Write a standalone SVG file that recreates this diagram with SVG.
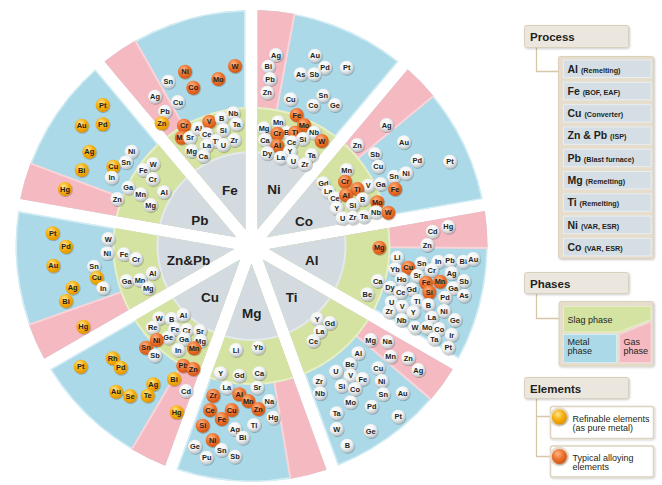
<svg xmlns="http://www.w3.org/2000/svg" width="662" height="485" viewBox="0 0 662 485">
<style>
text{font-family:"Liberation Sans",Arial,sans-serif;fill:#231f20}
.el text{font-size:7.4px;font-weight:bold;text-anchor:middle}
.w{fill:url(#gw);filter:url(#sh)}
.o{fill:url(#go);filter:url(#sh)}
.y{fill:url(#gy);filter:url(#sh)}
.lb{font-size:13.5px;font-weight:bold;text-anchor:middle}
.bl{fill:#acd9e7;stroke:#d3edf5;stroke-width:3}
.pk{fill:#f4b9c1;stroke:#f9d5da;stroke-width:2}
.gn{fill:#d5e3a2;stroke:#e6efc6;stroke-width:2}
.gc{fill:#d3dbe0;stroke:#e3e9ec;stroke-width:2}
.hd{fill:#ece7de;stroke:#d9cfbd;stroke-width:1}
.ht{font-size:11.5px;font-weight:bold}
.cn{fill:none;stroke:#d6c7a8;stroke-width:1.3}
.ob{fill:#e6ddcc;stroke:#dbd1bd;stroke-width:1}
.it{fill:#d4dee4;stroke:#e9eef1;stroke-width:1}
.pt{font-size:10.5px;font-weight:bold}
.ps{font-size:7.2px}
.lt{font-size:9px}
</style>
<defs>
<radialGradient id="gw" cx="0.4" cy="0.32" r="0.72">
<stop offset="0" stop-color="#ffffff"/><stop offset="0.55" stop-color="#f0f2f3"/><stop offset="1" stop-color="#b5bcc1"/>
</radialGradient>
<radialGradient id="go" cx="0.4" cy="0.32" r="0.72">
<stop offset="0" stop-color="#ffb585"/><stop offset="0.5" stop-color="#ee7430"/><stop offset="1" stop-color="#cf5210"/>
</radialGradient>
<radialGradient id="gy" cx="0.4" cy="0.32" r="0.72">
<stop offset="0" stop-color="#ffe590"/><stop offset="0.5" stop-color="#f7b00c"/><stop offset="1" stop-color="#e09200"/>
</radialGradient>
<clipPath id="sec"><path d="M0,-17.54 L75.05,-223.75 A236 236 0 0 0 -75.05,-223.75 Z"/></clipPath>
<filter id="sh" x="-30%" y="-30%" width="170%" height="170%"><feDropShadow dx="0.6" dy="0.8" stdDeviation="0.5" flood-color="#000" flood-opacity="0.3"/></filter>
<filter id="bs" x="-10%" y="-10%" width="130%" height="130%"><feDropShadow dx="1" dy="1" stdDeviation="0.8" flood-color="#000" flood-opacity="0.2"/></filter>
<g id="wedge">
<g clip-path="url(#sec)">
<path class="bl" d="M0,-17.54 L75.05,-223.75 A236 236 0 0 0 -75.05,-223.75 Z"/>
<polygon class="pk" points="0,0 -150,-259.8 -49.52,-295.88"/>
<circle class="gn" r="138"/>
<circle class="gc" r="94"/>
</g>
</g>
</defs>

<g id="sectors">
<use id="sector-ni" href="#wedge" transform="translate(251.5,246) rotate(20)"/>
<use id="sector-co" href="#wedge" transform="translate(251.5,246) rotate(60)"/>
<use id="sector-al" href="#wedge" transform="translate(251.5,246) rotate(100)"/>
<use id="sector-ti" href="#wedge" transform="translate(251.5,246) rotate(140)"/>
<use id="sector-mg" href="#wedge" transform="translate(251.5,246) rotate(180)"/>
<use id="sector-cu" href="#wedge" transform="translate(251.5,246) rotate(220)"/>
<use id="sector-znpb" href="#wedge" transform="translate(251.5,246) rotate(260)"/>
<use id="sector-pb" href="#wedge" transform="translate(251.5,246) rotate(300)"/>
<use id="sector-fe" href="#wedge" transform="translate(251.5,246) rotate(340)"/>
</g>

<g id="labels">
<text class="lb" x="230" y="194.5">Fe</text>
<text class="lb" x="274" y="193.5">Ni</text>
<text class="lb" x="304" y="226">Co</text>
<text class="lb" x="311.7" y="264.5">Al</text>
<text class="lb" x="291.7" y="302">Ti</text>
<text class="lb" x="251.7" y="318">Mg</text>
<text class="lb" x="210" y="302">Cu</text>
<text class="lb" x="188.5" y="264.5">Zn&amp;Pb</text>
<text class="lb" x="200" y="224.5">Pb</text>
</g>

<g id="fe-elements" class="el">
<circle class="o" cx="185" cy="71.7" r="7"/><text x="185" y="74.3">Ni</text>
<circle class="o" cx="193.3" cy="87.7" r="7"/><text x="193.3" y="90.3">Co</text>
<circle class="o" cx="218.3" cy="79" r="7"/><text x="218.3" y="81.6">Mo</text>
<circle class="o" cx="235" cy="66" r="7"/><text x="235" y="68.6">W</text>
<circle class="w" cx="168.3" cy="81.7" r="7"/><text x="168.3" y="84.3">Sn</text>
<circle class="w" cx="155" cy="96.7" r="7"/><text x="155" y="99.3">Ag</text>
<circle class="w" cx="178" cy="102" r="7"/><text x="178" y="104.6">Cu</text>
<circle class="w" cx="165" cy="111.7" r="7"/><text x="165" y="114.3">Pb</text>
<circle class="y" cx="161.7" cy="123.3" r="7"/><text x="161.7" y="125.9">Zn</text>
<circle class="o" cx="184" cy="125.7" r="7"/><text x="184" y="128.3">Cr</text>
<circle class="o" cx="181.7" cy="137.7" r="7"/><text x="181.7" y="140.3">Mn</text>
<circle class="w" cx="190" cy="137.7" r="7"/><text x="190" y="140.3">Sr</text>
<circle class="w" cx="198.3" cy="128.3" r="7"/><text x="198.3" y="130.9">Al</text>
<circle class="o" cx="209.3" cy="121.7" r="7"/><text x="209.3" y="124.3">V</text>
<circle class="w" cx="221.7" cy="118.3" r="7"/><text x="221.7" y="120.9">B</text>
<circle class="w" cx="233.3" cy="113.3" r="7"/><text x="233.3" y="115.9">Nb</text>
<circle class="w" cx="236.7" cy="124.3" r="7"/><text x="236.7" y="126.9">Ta</text>
<circle class="w" cx="223.3" cy="130" r="7"/><text x="223.3" y="132.6">Si</text>
<circle class="w" cx="206.7" cy="134.3" r="7"/><text x="206.7" y="136.9">Ce</text>
<circle class="w" cx="216" cy="141" r="7"/><text x="216" y="143.6">Ti</text>
<circle class="w" cx="234.3" cy="140" r="7"/><text x="234.3" y="142.6">Zr</text>
<circle class="w" cx="223.3" cy="145" r="7"/><text x="223.3" y="147.6">U</text>
<circle class="w" cx="206.7" cy="145.7" r="7"/><text x="206.7" y="148.3">La</text>
<circle class="w" cx="191.7" cy="151" r="7"/><text x="191.7" y="153.6">Mg</text>
<circle class="w" cx="203.3" cy="156" r="7"/><text x="203.3" y="158.6">Ca</text>
</g>

<g id="ni-elements" class="el">
<circle class="w" cx="276" cy="55" r="7"/><text x="276" y="57.6">Ag</text>
<circle class="w" cx="268.3" cy="66.7" r="7"/><text x="268.3" y="69.3">Bi</text>
<circle class="w" cx="270" cy="79" r="7"/><text x="270" y="81.6">Pb</text>
<circle class="w" cx="267.3" cy="92.7" r="7"/><text x="267.3" y="95.3">Zn</text>
<circle class="w" cx="315" cy="55.7" r="7"/><text x="315" y="58.3">Au</text>
<circle class="w" cx="325" cy="67.7" r="7"/><text x="325" y="70.3">Pd</text>
<circle class="w" cx="300.7" cy="74.3" r="7"/><text x="300.7" y="76.9">As</text>
<circle class="w" cx="314.3" cy="74.3" r="7"/><text x="314.3" y="76.9">Sb</text>
<circle class="w" cx="346.7" cy="67.7" r="7"/><text x="346.7" y="70.3">Pt</text>
<circle class="w" cx="290.7" cy="99.3" r="7"/><text x="290.7" y="101.9">Cu</text>
<circle class="w" cx="323.3" cy="95.7" r="7"/><text x="323.3" y="98.3">Sn</text>
<circle class="w" cx="313.3" cy="105.7" r="7"/><text x="313.3" y="108.3">Co</text>
<circle class="w" cx="335" cy="105" r="7"/><text x="335" y="107.6">Ge</text>
<circle class="o" cx="296.7" cy="115" r="7"/><text x="296.7" y="117.6">Fe</text>
<circle class="w" cx="278.3" cy="122.3" r="7"/><text x="278.3" y="124.9">Mn</text>
<circle class="o" cx="304" cy="125" r="7"/><text x="304" y="127.6">Mo</text>
<circle class="w" cx="264" cy="128.3" r="7"/><text x="264" y="130.9">Mg</text>
<circle class="w" cx="286.7" cy="132.7" r="7"/><text x="286.7" y="135.3">B</text>
<circle class="o" cx="277.3" cy="133.7" r="7"/><text x="277.3" y="136.3">Cr</text>
<circle class="o" cx="295" cy="132.7" r="7"/><text x="295" y="135.3">Ti</text>
<circle class="w" cx="314" cy="132.7" r="7"/><text x="314" y="135.3">Nb</text>
<circle class="w" cx="302.7" cy="139" r="7"/><text x="302.7" y="141.6">Si</text>
<circle class="w" cx="265" cy="140" r="7"/><text x="265" y="142.6">Ca</text>
<circle class="w" cx="291.7" cy="142.3" r="7"/><text x="291.7" y="144.9">Ce</text>
<circle class="o" cx="321.7" cy="141" r="7"/><text x="321.7" y="143.6">W</text>
<circle class="o" cx="277.3" cy="145.7" r="7"/><text x="277.3" y="148.3">Al</text>
<circle class="w" cx="267.3" cy="153.3" r="7"/><text x="267.3" y="155.9">Dy</text>
<circle class="w" cx="290" cy="151.7" r="7"/><text x="290" y="154.3">Y</text>
<circle class="w" cx="280.7" cy="157.7" r="7"/><text x="280.7" y="160.3">La</text>
<circle class="w" cx="311.7" cy="155" r="7"/><text x="311.7" y="157.6">Ta</text>
<circle class="w" cx="293.3" cy="161" r="7"/><text x="293.3" y="163.6">U</text>
<circle class="w" cx="305" cy="164.3" r="7"/><text x="305" y="166.9">Zr</text>
</g>

<g id="co-elements" class="el">
<circle class="w" cx="386.7" cy="125" r="7"/><text x="386.7" y="127.6">Ag</text>
<circle class="w" cx="357.3" cy="145" r="7"/><text x="357.3" y="147.6">Zn</text>
<circle class="w" cx="404" cy="142.3" r="7"/><text x="404" y="144.9">Au</text>
<circle class="w" cx="375" cy="154" r="7"/><text x="375" y="156.6">Sb</text>
<circle class="w" cx="417.3" cy="160.7" r="7"/><text x="417.3" y="163.3">Pd</text>
<circle class="w" cx="450" cy="161.7" r="7"/><text x="450" y="164.3">Pt</text>
<circle class="w" cx="346.7" cy="170" r="7"/><text x="346.7" y="172.6">Mn</text>
<circle class="w" cx="378.3" cy="166.7" r="7"/><text x="378.3" y="169.3">Cu</text>
<circle class="w" cx="394" cy="176.7" r="7"/><text x="394" y="179.3">Sn</text>
<circle class="w" cx="406" cy="173.3" r="7"/><text x="406" y="175.9">Ni</text>
<circle class="o" cx="345" cy="181.7" r="7"/><text x="345" y="184.3">Cr</text>
<circle class="w" cx="368.3" cy="185.7" r="7"/><text x="368.3" y="188.3">V</text>
<circle class="o" cx="357.3" cy="189" r="7"/><text x="357.3" y="191.6">Ti</text>
<circle class="w" cx="380.7" cy="184" r="7"/><text x="380.7" y="186.6">Ga</text>
<circle class="o" cx="395" cy="189" r="7"/><text x="395" y="191.6">Fe</text>
<circle class="w" cx="323.3" cy="183.3" r="7"/><text x="323.3" y="185.9">Gd</text>
<circle class="w" cx="328.3" cy="191.7" r="7"/><text x="328.3" y="194.3">La</text>
<circle class="w" cx="335" cy="198.3" r="7"/><text x="335" y="200.9">Ce</text>
<circle class="o" cx="346" cy="195" r="7"/><text x="346" y="197.6">Al</text>
<circle class="w" cx="362.7" cy="199.3" r="7"/><text x="362.7" y="201.9">B</text>
<circle class="o" cx="377.3" cy="202.3" r="7"/><text x="377.3" y="204.9">Mo</text>
<circle class="w" cx="336.7" cy="208.3" r="7"/><text x="336.7" y="210.9">Y</text>
<circle class="w" cx="352.7" cy="205" r="7"/><text x="352.7" y="207.6">Si</text>
<circle class="w" cx="342.7" cy="218.3" r="7"/><text x="342.7" y="220.9">U</text>
<circle class="w" cx="352.7" cy="217.7" r="7"/><text x="352.7" y="220.3">Zr</text>
<circle class="w" cx="364" cy="216.7" r="7"/><text x="364" y="219.3">Ta</text>
<circle class="w" cx="376" cy="212.3" r="7"/><text x="376" y="214.9">Nb</text>
<circle class="o" cx="388.3" cy="212.7" r="7"/><text x="388.3" y="215.3">W</text>
</g>

<g id="al-elements" class="el">
<circle class="w" cx="448.3" cy="226.7" r="7"/><text x="448.3" y="229.3">Hg</text>
<circle class="w" cx="432.7" cy="231.7" r="7"/><text x="432.7" y="234.3">Cd</text>
<circle class="w" cx="427.3" cy="245" r="7"/><text x="427.3" y="247.6">Zn</text>
<circle class="o" cx="379.3" cy="247.7" r="7"/><text x="379.3" y="250.3">Mg</text>
<circle class="w" cx="397.3" cy="257.7" r="7"/><text x="397.3" y="260.3">Li</text>
<circle class="w" cx="421.7" cy="263.3" r="7"/><text x="421.7" y="265.9">Sn</text>
<circle class="w" cx="438.3" cy="261.7" r="7"/><text x="438.3" y="264.3">In</text>
<circle class="w" cx="450" cy="260.7" r="7"/><text x="450" y="263.3">Pb</text>
<circle class="w" cx="463.3" cy="261.7" r="7"/><text x="463.3" y="264.3">Bi</text>
<circle class="w" cx="473.3" cy="259" r="7"/><text x="473.3" y="261.6">Au</text>
<circle class="w" cx="395" cy="269.3" r="7"/><text x="395" y="271.9">Yb</text>
<circle class="o" cx="408.3" cy="267.7" r="7"/><text x="408.3" y="270.3">Cu</text>
<circle class="w" cx="431.7" cy="270" r="7"/><text x="431.7" y="272.6">Cr</text>
<circle class="w" cx="451.7" cy="273.3" r="7"/><text x="451.7" y="275.9">Ag</text>
<circle class="w" cx="417.3" cy="275.7" r="7"/><text x="417.3" y="278.3">Sr</text>
<circle class="w" cx="377.7" cy="281" r="7"/><text x="377.7" y="283.6">Ca</text>
<circle class="w" cx="401.7" cy="279.3" r="7"/><text x="401.7" y="281.9">Ho</text>
<circle class="o" cx="426" cy="282.7" r="7"/><text x="426" y="285.3">Fe</text>
<circle class="o" cx="440" cy="281.7" r="7"/><text x="440" y="284.3">Mn</text>
<circle class="w" cx="464" cy="281" r="7"/><text x="464" y="283.6">Sb</text>
<circle class="w" cx="390" cy="287.7" r="7"/><text x="390" y="290.3">Dy</text>
<circle class="w" cx="411.7" cy="289.3" r="7"/><text x="411.7" y="291.9">Gd</text>
<circle class="w" cx="400.7" cy="292.3" r="7"/><text x="400.7" y="294.9">Ce</text>
<circle class="w" cx="453.3" cy="288.3" r="7"/><text x="453.3" y="290.9">Ga</text>
<circle class="o" cx="429.3" cy="292.3" r="7"/><text x="429.3" y="294.9">Si</text>
<circle class="w" cx="367.3" cy="294.3" r="7"/><text x="367.3" y="296.9">Be</text>
<circle class="w" cx="464" cy="295.7" r="7"/><text x="464" y="298.3">As</text>
<circle class="w" cx="445" cy="297.7" r="7"/><text x="445" y="300.3">Pd</text>
<circle class="w" cx="391.7" cy="302.3" r="7"/><text x="391.7" y="304.9">U</text>
<circle class="w" cx="417.3" cy="301" r="7"/><text x="417.3" y="303.6">Ti</text>
<circle class="w" cx="428.3" cy="305" r="7"/><text x="428.3" y="307.6">B</text>
<circle class="w" cx="402.3" cy="306.7" r="7"/><text x="402.3" y="309.3">V</text>
<circle class="w" cx="389.3" cy="311.7" r="7"/><text x="389.3" y="314.3">Zr</text>
<circle class="w" cx="413.3" cy="312.3" r="7"/><text x="413.3" y="314.9">Y</text>
<circle class="w" cx="444" cy="311" r="7"/><text x="444" y="313.6">Ni</text>
<circle class="w" cx="401.7" cy="320" r="7"/><text x="401.7" y="322.6">Nb</text>
<circle class="w" cx="431.7" cy="317.7" r="7"/><text x="431.7" y="320.3">La</text>
<circle class="w" cx="455" cy="320" r="7"/><text x="455" y="322.6">Ge</text>
<circle class="w" cx="415" cy="327.7" r="7"/><text x="415" y="330.3">W</text>
<circle class="w" cx="427.3" cy="327.7" r="7"/><text x="427.3" y="330.3">Mo</text>
<circle class="w" cx="439.3" cy="329" r="7"/><text x="439.3" y="331.6">Co</text>
<circle class="w" cx="451.7" cy="335" r="7"/><text x="451.7" y="337.6">Ir</text>
<circle class="w" cx="434.3" cy="339" r="7"/><text x="434.3" y="341.6">Ta</text>
<circle class="w" cx="448.3" cy="347.7" r="7"/><text x="448.3" y="350.3">Pt</text>
</g>

<g id="ti-elements" class="el">
<circle class="w" cx="317.3" cy="319" r="7"/><text x="317.3" y="321.6">Y</text>
<circle class="w" cx="330" cy="323" r="7"/><text x="330" y="325.6">Gd</text>
<circle class="w" cx="320" cy="331.7" r="7"/><text x="320" y="334.3">La</text>
<circle class="w" cx="313.3" cy="341" r="7"/><text x="313.3" y="343.6">Ce</text>
<circle class="w" cx="336" cy="371.7" r="7"/><text x="336" y="374.3">U</text>
<circle class="w" cx="319.3" cy="381" r="7"/><text x="319.3" y="383.6">Zr</text>
<circle class="w" cx="320" cy="393.3" r="7"/><text x="320" y="395.9">Nb</text>
<circle class="w" cx="336.7" cy="413.3" r="7"/><text x="336.7" y="415.9">Ta</text>
<circle class="w" cx="336.7" cy="429" r="7"/><text x="336.7" y="431.6">W</text>
<circle class="w" cx="370.7" cy="340" r="7"/><text x="370.7" y="342.6">Mg</text>
<circle class="w" cx="387.3" cy="341.7" r="7"/><text x="387.3" y="344.3">Na</text>
<circle class="w" cx="390.7" cy="356.7" r="7"/><text x="390.7" y="359.3">Mn</text>
<circle class="w" cx="408.3" cy="358.3" r="7"/><text x="408.3" y="360.9">Zn</text>
<circle class="w" cx="418.3" cy="370" r="7"/><text x="418.3" y="372.6">Ag</text>
<circle class="w" cx="358.3" cy="353.3" r="7"/><text x="358.3" y="355.9">Al</text>
<circle class="w" cx="350" cy="364.3" r="7"/><text x="350" y="366.9">Be</text>
<circle class="w" cx="378.3" cy="368.3" r="7"/><text x="378.3" y="370.9">Cu</text>
<circle class="w" cx="350.7" cy="375.7" r="7"/><text x="350.7" y="378.3">V</text>
<circle class="w" cx="362.7" cy="379" r="7"/><text x="362.7" y="381.6">Fe</text>
<circle class="w" cx="381.7" cy="381" r="7"/><text x="381.7" y="383.6">Ni</text>
<circle class="w" cx="341.7" cy="386" r="7"/><text x="341.7" y="388.6">Si</text>
<circle class="w" cx="355" cy="389" r="7"/><text x="355" y="391.6">Co</text>
<circle class="w" cx="383.3" cy="394.3" r="7"/><text x="383.3" y="396.9">Sn</text>
<circle class="w" cx="402.7" cy="393.3" r="7"/><text x="402.7" y="395.9">Au</text>
<circle class="w" cx="350.7" cy="402.3" r="7"/><text x="350.7" y="404.9">Mo</text>
<circle class="w" cx="371.7" cy="406.7" r="7"/><text x="371.7" y="409.3">Pd</text>
<circle class="w" cx="398.3" cy="416.7" r="7"/><text x="398.3" y="419.3">Pt</text>
<circle class="w" cx="370.7" cy="431" r="7"/><text x="370.7" y="433.6">Ge</text>
<circle class="w" cx="347.3" cy="445.7" r="7"/><text x="347.3" y="448.3">B</text>
</g>

<g id="mg-elements" class="el">
<circle class="w" cx="236" cy="350" r="7"/><text x="236" y="352.6">Li</text>
<circle class="w" cx="258.3" cy="347.7" r="7"/><text x="258.3" y="350.3">Yb</text>
<circle class="w" cx="220.7" cy="373.3" r="7"/><text x="220.7" y="375.9">Y</text>
<circle class="w" cx="239.3" cy="375.7" r="7"/><text x="239.3" y="378.3">Gd</text>
<circle class="w" cx="259.3" cy="373.3" r="7"/><text x="259.3" y="375.9">Ca</text>
<circle class="w" cx="226.7" cy="387.7" r="7"/><text x="226.7" y="390.3">La</text>
<circle class="w" cx="257.3" cy="387.7" r="7"/><text x="257.3" y="390.3">Sr</text>
<circle class="o" cx="213.3" cy="395.7" r="7"/><text x="213.3" y="398.3">Zr</text>
<circle class="o" cx="239.3" cy="394.3" r="7"/><text x="239.3" y="396.9">Al</text>
<circle class="o" cx="248.3" cy="401" r="7"/><text x="248.3" y="403.6">Mn</text>
<circle class="w" cx="269.3" cy="401" r="7"/><text x="269.3" y="403.6">Na</text>
<circle class="o" cx="258.3" cy="409" r="7"/><text x="258.3" y="411.6">Zn</text>
<circle class="o" cx="210" cy="410" r="7"/><text x="210" y="412.6">Ce</text>
<circle class="o" cx="231.7" cy="410" r="7"/><text x="231.7" y="412.6">Cu</text>
<circle class="o" cx="221.7" cy="419" r="7"/><text x="221.7" y="421.6">Fe</text>
<circle class="w" cx="273.3" cy="417.7" r="7"/><text x="273.3" y="420.3">Hg</text>
<circle class="w" cx="254" cy="425" r="7"/><text x="254" y="427.6">Tl</text>
<circle class="w" cx="235" cy="429" r="7"/><text x="235" y="431.6">Ag</text>
<circle class="o" cx="202.7" cy="425.7" r="7"/><text x="202.7" y="428.3">Si</text>
<circle class="w" cx="242.7" cy="437.7" r="7"/><text x="242.7" y="440.3">Bi</text>
<circle class="o" cx="212.7" cy="440" r="7"/><text x="212.7" y="442.6">Ni</text>
<circle class="w" cx="195" cy="446.7" r="7"/><text x="195" y="449.3">Ge</text>
<circle class="w" cx="221.7" cy="450" r="7"/><text x="221.7" y="452.6">Sn</text>
<circle class="w" cx="206.7" cy="457.7" r="7"/><text x="206.7" y="460.3">Pu</text>
<circle class="w" cx="235" cy="456.7" r="7"/><text x="235" y="459.3">Sb</text>
</g>

<g id="cu-elements" class="el">
<circle class="w" cx="159.3" cy="318.3" r="7"/><text x="159.3" y="320.9">W</text>
<circle class="w" cx="171.7" cy="319" r="7"/><text x="171.7" y="321.6">B</text>
<circle class="w" cx="183.3" cy="315" r="7"/><text x="183.3" y="317.6">Al</text>
<circle class="w" cx="152.7" cy="327.7" r="7"/><text x="152.7" y="330.3">Re</text>
<circle class="w" cx="175" cy="329" r="7"/><text x="175" y="331.6">Fe</text>
<circle class="w" cx="186.7" cy="330" r="7"/><text x="186.7" y="332.6">Cr</text>
<circle class="w" cx="200" cy="331" r="7"/><text x="200" y="333.6">Sr</text>
<circle class="w" cx="168.3" cy="337.7" r="7"/><text x="168.3" y="340.3">Ge</text>
<circle class="o" cx="156.7" cy="340" r="7"/><text x="156.7" y="342.6">Ni</text>
<circle class="w" cx="184" cy="339" r="7"/><text x="184" y="341.6">Ga</text>
<circle class="w" cx="200.7" cy="341" r="7"/><text x="200.7" y="343.6">Mg</text>
<circle class="o" cx="146" cy="347.7" r="7"/><text x="146" y="350.3">Sn</text>
<circle class="w" cx="178.3" cy="350" r="7"/><text x="178.3" y="352.6">In</text>
<circle class="o" cx="194" cy="348.3" r="7"/><text x="194" y="350.9">Mn</text>
<circle class="w" cx="155" cy="355.7" r="7"/><text x="155" y="358.3">Sb</text>
<circle class="o" cx="183.3" cy="365.7" r="7"/><text x="183.3" y="368.3">Pb</text>
<circle class="o" cx="193.3" cy="369" r="7"/><text x="193.3" y="371.6">Zn</text>
<circle class="y" cx="174" cy="379" r="7"/><text x="174" y="381.6">Bi</text>
<circle class="w" cx="186" cy="391" r="7"/><text x="186" y="393.6">Cd</text>
<circle class="y" cx="153.3" cy="384.3" r="7"/><text x="153.3" y="386.9">Ag</text>
<circle class="y" cx="147.7" cy="395.7" r="7"/><text x="147.7" y="398.3">Te</text>
<circle class="y" cx="130" cy="396" r="7"/><text x="130" y="398.6">Se</text>
<circle class="y" cx="116" cy="391.7" r="7"/><text x="116" y="394.3">Au</text>
<circle class="y" cx="112.7" cy="358.3" r="7"/><text x="112.7" y="360.9">Rh</text>
<circle class="y" cx="120.7" cy="367.7" r="7"/><text x="120.7" y="370.3">Pd</text>
<circle class="y" cx="80.7" cy="366.7" r="7"/><text x="80.7" y="369.3">Pt</text>
<circle class="y" cx="176.7" cy="412.3" r="7"/><text x="176.7" y="414.9">Hg</text>
</g>

<g id="znpb-elements" class="el">
<circle class="w" cx="108.3" cy="239" r="7"/><text x="108.3" y="241.6">W</text>
<circle class="w" cx="107.3" cy="253.3" r="7"/><text x="107.3" y="255.9">Ni</text>
<circle class="w" cx="124" cy="254.3" r="7"/><text x="124" y="256.9">Fe</text>
<circle class="w" cx="136" cy="259" r="7"/><text x="136" y="261.6">Cr</text>
<circle class="w" cx="152.7" cy="273.3" r="7"/><text x="152.7" y="275.9">Al</text>
<circle class="w" cx="94" cy="266.7" r="7"/><text x="94" y="269.3">Sn</text>
<circle class="y" cx="96.7" cy="277.7" r="7"/><text x="96.7" y="280.3">Cu</text>
<circle class="w" cx="103.3" cy="288.3" r="7"/><text x="103.3" y="290.9">In</text>
<circle class="w" cx="126.7" cy="281" r="7"/><text x="126.7" y="283.6">Ga</text>
<circle class="w" cx="140" cy="280" r="7"/><text x="140" y="282.6">Mn</text>
<circle class="w" cx="148.3" cy="288.3" r="7"/><text x="148.3" y="290.9">Mg</text>
<circle class="y" cx="52.7" cy="233.3" r="7"/><text x="52.7" y="235.9">Pt</text>
<circle class="y" cx="66" cy="246.7" r="7"/><text x="66" y="249.3">Pd</text>
<circle class="y" cx="53.3" cy="265.7" r="7"/><text x="53.3" y="268.3">Au</text>
<circle class="y" cx="72.7" cy="287.7" r="7"/><text x="72.7" y="290.3">Ag</text>
<circle class="y" cx="66" cy="301" r="7"/><text x="66" y="303.6">Bi</text>
<circle class="y" cx="83.3" cy="326.7" r="7"/><text x="83.3" y="329.3">Hg</text>
</g>

<g id="pb-elements" class="el">
<circle class="y" cx="102.7" cy="105" r="7"/><text x="102.7" y="107.6">Pt</text>
<circle class="y" cx="81.7" cy="125.7" r="7"/><text x="81.7" y="128.3">Au</text>
<circle class="y" cx="102.7" cy="124.3" r="7"/><text x="102.7" y="126.9">Pd</text>
<circle class="y" cx="89.3" cy="151.7" r="7"/><text x="89.3" y="154.3">Ag</text>
<circle class="w" cx="131.7" cy="151.7" r="7"/><text x="131.7" y="154.3">Ni</text>
<circle class="w" cx="126" cy="162.3" r="7"/><text x="126" y="164.9">Sn</text>
<circle class="w" cx="153.3" cy="164" r="7"/><text x="153.3" y="166.6">W</text>
<circle class="y" cx="81.7" cy="170" r="7"/><text x="81.7" y="172.6">Bi</text>
<circle class="y" cx="113.3" cy="166.7" r="7"/><text x="113.3" y="169.3">Cu</text>
<circle class="w" cx="111.7" cy="177.7" r="7"/><text x="111.7" y="180.3">In</text>
<circle class="w" cx="143.3" cy="170" r="7"/><text x="143.3" y="172.6">Fe</text>
<circle class="w" cx="152.7" cy="179" r="7"/><text x="152.7" y="181.6">Cr</text>
<circle class="y" cx="65" cy="189" r="7"/><text x="65" y="191.6">Hg</text>
<circle class="w" cx="128.3" cy="187.7" r="7"/><text x="128.3" y="190.3">Ga</text>
<circle class="w" cx="140.7" cy="194.3" r="7"/><text x="140.7" y="196.9">Mn</text>
<circle class="w" cx="164" cy="192.3" r="7"/><text x="164" y="194.9">Al</text>
<circle class="w" cx="117.3" cy="199" r="7"/><text x="117.3" y="201.6">Zn</text>
<circle class="w" cx="150.7" cy="205" r="7"/><text x="150.7" y="207.6">Mg</text>
</g>

<g id="connectors">
<path class="cn" d="M536.5,47.5 V71.5 H559"/>
<path class="cn" d="M536.5,293.5 V318.5 H559"/>
<path class="cn" d="M536.5,398.5 V456.5 H551 M536.5,416.5 H551"/>
</g>

<g id="legend-process">
<rect class="hd" x="524.5" y="25.5" width="104" height="22" rx="2" filter="url(#bs)"/>
<text class="ht" x="530" y="41">Process</text>
<rect class="ob" x="558.5" y="56.5" width="95" height="202" rx="2" filter="url(#bs)"/>
<rect class="it" x="563.5" y="60" width="87.5" height="17.5"/>
<text class="pt" x="567.5" y="72.5">Al <tspan class="ps">(Remelting)</tspan></text>
<rect class="it" x="563.5" y="82.3" width="87.5" height="17.5"/>
<text class="pt" x="567.5" y="94.8">Fe <tspan class="ps">(BOF, EAF)</tspan></text>
<rect class="it" x="563.5" y="104.6" width="87.5" height="17.5"/>
<text class="pt" x="567.5" y="117.1">Cu <tspan class="ps">(Converter)</tspan></text>
<rect class="it" x="563.5" y="126.9" width="87.5" height="17.5"/>
<text class="pt" x="567.5" y="139.4">Zn &amp; Pb <tspan class="ps">(ISP)</tspan></text>
<rect class="it" x="563.5" y="149.2" width="87.5" height="17.5"/>
<text class="pt" x="567.5" y="161.7">Pb <tspan class="ps">(Blast furnace)</tspan></text>
<rect class="it" x="563.5" y="171.5" width="87.5" height="17.5"/>
<text class="pt" x="567.5" y="184">Mg <tspan class="ps">(Remelting)</tspan></text>
<rect class="it" x="563.5" y="193.8" width="87.5" height="17.5"/>
<text class="pt" x="567.5" y="206.3">Ti <tspan class="ps">(Remelting)</tspan></text>
<rect class="it" x="563.5" y="216.1" width="87.5" height="17.5"/>
<text class="pt" x="567.5" y="228.6">Ni <tspan class="ps">(VAR, ESR)</tspan></text>
<rect class="it" x="563.5" y="238.4" width="87.5" height="17.5"/>
<text class="pt" x="567.5" y="250.9">Co <tspan class="ps">(VAR, ESR)</tspan></text>
</g>

<g id="legend-phases">
<rect class="hd" x="524.5" y="272.5" width="104" height="21" rx="2" filter="url(#bs)"/>
<text class="ht" x="530" y="287.5">Phases</text>
<rect class="ob" x="559" y="301.5" width="94.5" height="64.5" rx="2" filter="url(#bs)"/>
<polygon points="563.5,306.5 651,306.5 651,319.5 618.5,332 563.5,332" fill="#d5e3a2" stroke="#e6efc6"/>
<rect x="563.5" y="334.5" width="53" height="28" fill="#acd9e7" stroke="#d3edf5"/>
<polygon points="619.5,334.5 651,322 651,362.5 619.5,362.5" fill="#f4b9c1" stroke="#f9d5da"/>
<text class="lt" x="567.5" y="322.5">Slag phase</text>
<text class="lt" x="567.5" y="344.5">Metal</text>
<text class="lt" x="567.5" y="353.5">phase</text>
<text class="lt" x="623.5" y="344.5">Gas</text>
<text class="lt" x="623.5" y="353.5">phase</text>
</g>

<g id="legend-elements">
<rect class="hd" x="524.5" y="377.5" width="104" height="21" rx="2" filter="url(#bs)"/>
<text class="ht" x="530" y="392.5">Elements</text>
<rect x="550.5" y="406.5" width="103" height="32" rx="2" fill="#fff" stroke="#ddd3c0" stroke-width="1.5" filter="url(#bs)"/>
<circle cx="559.3" cy="417" r="10" fill="#e6ddcc"/>
<circle class="y" cx="559.3" cy="417" r="7.5"/>
<text class="lt" x="572.5" y="421.5">Refinable elements</text>
<text class="lt" x="572.5" y="431">(as pure metal)</text>
<rect x="550.5" y="446" width="103" height="31" rx="2" fill="#fff" stroke="#ddd3c0" stroke-width="1.5" filter="url(#bs)"/>
<circle cx="559.3" cy="456.5" r="10" fill="#e6ddcc"/>
<circle class="o" cx="559.3" cy="456.5" r="7.5"/>
<text class="lt" x="572.5" y="460.5">Typical alloying</text>
<text class="lt" x="572.5" y="470">elements</text>
</g>
</svg>
